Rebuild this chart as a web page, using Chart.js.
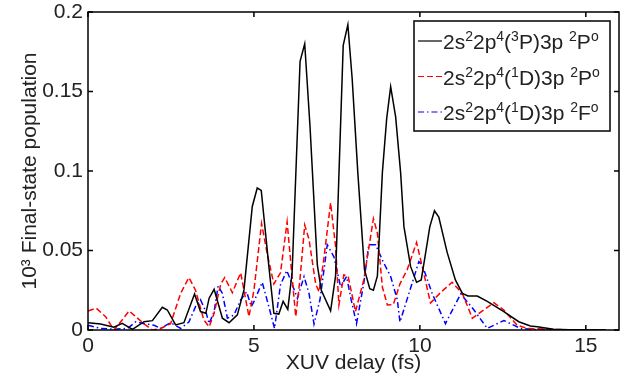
<!DOCTYPE html>
<html>
<head>
<meta charset="utf-8">
<script src="https://cdn.jsdelivr.net/npm/chart.js@4.4.0/dist/chart.umd.min.js"></script>
<style>
  body { margin: 0; background: #fff; }
</style>
</head>
<body>
<canvas id="popChart" width="630" height="382"></canvas>
<script>
// XUV delay (fs) and final-state population (x10^3)
const delay3P2P = [0.0, 0.38, 0.78, 1.03, 1.34, 1.69, 1.94, 2.24, 2.39, 2.64, 2.89, 3.21, 3.39, 3.55, 3.65, 3.80,
  4.05, 4.25, 4.50, 4.70, 4.95, 5.10, 5.22, 5.45, 5.60, 5.75, 5.88, 6.02, 6.15, 6.39, 6.53, 6.69, 6.91, 7.03,
  7.31, 7.46, 7.69, 7.83, 7.96, 8.13, 8.33, 8.49, 8.60, 8.72, 8.87, 9.00, 9.12, 9.27, 9.42, 9.52, 9.72, 9.90,
  10.04, 10.17, 10.30, 10.44, 10.57, 10.82, 11.07, 11.28, 11.45, 11.73, 12.03, 12.53, 12.98, 13.33, 13.54,
  14.03, 14.5, 15.0, 15.6];
const pop3P2P = [0.0046, 0.0038, 0.0017, 0.0042, 0.0004, 0.0052, 0.0059, 0.0143, 0.0126, 0.0032, 0.0046, 0.0227,
  0.0116, 0.0105, 0.020, 0.0256, 0.0074, 0.0046, 0.0095, 0.0252, 0.0777, 0.0893, 0.0878, 0.040, 0.0105, 0.010,
  0.018, 0.013, 0.036, 0.169, 0.180, 0.128, 0.041, 0.025, 0.012, 0.034, 0.179, 0.192, 0.158, 0.099, 0.038,
  0.026, 0.025, 0.034, 0.099, 0.133, 0.153, 0.134, 0.099, 0.065, 0.040, 0.030, 0.0315, 0.048, 0.065, 0.075,
  0.071, 0.049, 0.0315, 0.023, 0.0214, 0.0214, 0.018, 0.0116, 0.0052, 0.0025, 0.002, 0.0004, 0.0001, 0, 0];

const delay1D2P = [0.0, 0.25, 0.53, 0.78, 0.98, 1.24, 1.44, 1.74, 1.94, 2.19, 2.49, 2.79, 3.04, 3.24, 3.49, 3.65,
  3.80, 4.00, 4.12, 4.35, 4.60, 4.85, 5.00, 5.23, 5.40, 5.60, 5.80, 6.00, 6.12, 6.26, 6.39, 6.53, 6.66, 6.86,
  6.96, 7.09, 7.31, 7.46, 7.56, 7.71, 7.84, 8.06, 8.31, 8.60, 8.72, 8.87, 9.02, 9.20, 9.40, 9.62, 9.90, 10.07,
  10.32, 10.62, 10.97, 11.28, 11.58, 11.78, 12.23, 12.53, 12.93, 13.23, 14.0, 15.6];
const pop1D2P = [0.012, 0.0137, 0.0084, 0.0, 0.005, 0.012, 0.0084, 0.003, 0.0, 0.001, 0.004, 0.023, 0.033, 0.025,
  0.0063, 0.002, 0.0105, 0.029, 0.033, 0.0235, 0.036, 0.0084, 0.025, 0.067, 0.048, 0.029, 0.036, 0.068, 0.040,
  0.0084, 0.0326, 0.066, 0.057, 0.029, 0.024, 0.042, 0.080, 0.0525, 0.0158, 0.0347, 0.0336, 0.0116, 0.0315,
  0.070, 0.061, 0.027, 0.0158, 0.016, 0.029, 0.038, 0.055, 0.040, 0.017, 0.0235, 0.030, 0.023, 0.0074, 0.0105,
  0.0172, 0.0126, 0.003, 0.001, 0.0003, 0];

const delay1D2F = [0.0, 0.38, 0.78, 1.19, 1.44, 1.69, 1.99, 2.19, 2.49, 2.79, 3.04, 3.24, 3.39, 3.55, 3.65, 3.80,
  3.92, 4.05, 4.20, 4.40, 4.60, 4.78, 4.92, 5.00, 5.25, 5.45, 5.62, 5.80, 5.99, 6.13, 6.31, 6.51, 6.66, 6.81,
  6.99, 7.21, 7.41, 7.61, 7.79, 7.93, 8.09, 8.31, 8.46, 8.67, 8.87, 9.12, 9.32, 9.40, 9.97, 10.07, 10.37, 10.77,
  11.23, 11.63, 12.03, 12.53, 13.03, 13.5, 15.6];
const pop1D2F = [0.003, 0.001, 0.0005, 0.001, 0.0052, 0.004, 0.003, 0.001, 0.0046, 0.001, 0.005, 0.0147, 0.019,
  0.0116, 0.004, 0.0116, 0.0277, 0.023, 0.0074, 0.0095, 0.019, 0.024, 0.0147, 0.0178, 0.030, 0.0147, 0.001,
  0.0284, 0.0374, 0.030, 0.020, 0.0336, 0.023, 0.0038, 0.019, 0.0536, 0.046, 0.0273, 0.0336, 0.019, 0.004,
  0.0294, 0.0536, 0.0536, 0.044, 0.0336, 0.019, 0.005, 0.043, 0.041, 0.023, 0.004, 0.0227, 0.0126, 0.001,
  0.006, 0.001, 0.0003, 0];

// '^' puts the next character in superscript
const stateNames = ['2s^22p^4(^3P)3p ^2P^o', '2s^22p^4(^1D)3p ^2P^o', '2s^22p^4(^1D)3p ^2F^o'];
const xTicks = [0, 5, 10, 15];
const yTicks = [0, 0.05, 0.1, 0.15, 0.2];

const FONT = '"Liberation Sans", Arial, sans-serif';
const TEXT = '#222';

const toPoints = (xs, ys) => xs.map((x, i) => ({ x: x, y: ys[i] }));

function drawRich(ctx, str, x, y) {
  let sup = false;
  for (const ch of str) {
    if (ch === '^') { sup = true; continue; }
    ctx.font = (sup ? 14 : 21) + 'px ' + FONT;
    ctx.fillText(ch, x, sup ? y - 8 : y);
    x += ctx.measureText(ch).width;
    sup = false;
  }
}

// MATLAB style box: frame, inward ticks on all sides, boxed legend
const framePlugin = {
  id: 'frame',
  afterDatasetsDraw(chart) {
    const { ctx, chartArea: a, scales: { x, y } } = chart;
    ctx.save();
    ctx.strokeStyle = '#000';
    ctx.lineWidth = 1.5;
    ctx.setLineDash([]);
    ctx.strokeRect(a.left, a.top, a.right - a.left, a.bottom - a.top);
    ctx.beginPath();
    xTicks.forEach(v => {
      const px = x.getPixelForValue(v);
      ctx.moveTo(px, a.bottom); ctx.lineTo(px, a.bottom - 5);
      ctx.moveTo(px, a.top); ctx.lineTo(px, a.top + 5);
    });
    yTicks.forEach(v => {
      const py = y.getPixelForValue(v);
      ctx.moveTo(a.left, py); ctx.lineTo(a.left + 5, py);
      ctx.moveTo(a.right, py); ctx.lineTo(a.right - 5, py);
    });
    ctx.stroke();

    // legend
    const bx = a.right - 205, by = a.top + 9, bw = 196, bh = 110;
    ctx.fillStyle = '#fff';
    ctx.fillRect(bx, by, bw, bh);
    ctx.strokeRect(bx, by, bw, bh);
    chart.data.datasets.forEach((ds, i) => {
      const ly = by + 20 + i * 35.5;
      ctx.beginPath();
      ctx.strokeStyle = ds.borderColor;
      ctx.lineWidth = 1.2;
      ctx.setLineDash(ds.borderDash || []);
      ctx.moveTo(bx + 4, ly);
      ctx.lineTo(bx + 28, ly);
      ctx.stroke();
      ctx.setLineDash([]);
      ctx.fillStyle = TEXT;
      ctx.textBaseline = 'alphabetic';
      drawRich(ctx, stateNames[i], bx + 29, ly + 8);
    });
    ctx.restore();
  }
};

new Chart(document.getElementById('popChart'), {
  type: 'line',
  data: {
    datasets: [{
      label: stateNames[0],
      data: toPoints(delay3P2P, pop3P2P),
      borderColor: '#000000',
      borderWidth: 1.5,
    }, {
      label: stateNames[1],
      data: toPoints(delay1D2P, pop1D2P),
      borderColor: '#ff0000',
      borderWidth: 1.5,
      borderDash: [6, 3],
    }, {
      label: stateNames[2],
      data: toPoints(delay1D2F, pop1D2F),
      borderColor: '#0000ff',
      borderWidth: 1.5,
      borderDash: [6, 3, 1.5, 3],
    }]
  },
  options: {
    responsive: false,
    animation: false,
    layout: { padding: { top: 12, right: 11, left: 0, bottom: 0 } },
    elements: {
      point: { radius: 0 },
      line: { tension: 0, fill: false }
    },
    plugins: {
      legend: { display: false },
      tooltip: { enabled: false }
    },
    scales: {
      x: {
        type: 'linear',
        min: 0,
        max: 16,
        afterBuildTicks: s => { s.ticks = xTicks.map(v => ({ value: v })); },
        afterFit: s => { s.height = 52; s.paddingLeft = 0; s.paddingRight = 0; },
        grid: { display: false, drawTicks: false },
        border: { display: false },
        ticks: { padding: 4, color: TEXT, font: { family: FONT, size: 21 }, callback: v => String(v) },
        title: { display: true, text: 'XUV delay (fs)', color: TEXT, font: { family: FONT, size: 21 }, padding: { top: 0, bottom: 6 } }
      },
      y: {
        min: 0,
        max: 0.2,
        afterBuildTicks: s => { s.ticks = yTicks.map(v => ({ value: v })); },
        afterFit: s => { s.width = 88; s.paddingTop = 0; s.paddingBottom = 0; },
        grid: { display: false, drawTicks: false },
        border: { display: false },
        ticks: { padding: 5, color: TEXT, font: { family: FONT, size: 21 }, callback: v => String(+v.toFixed(2)) },
        title: { display: true, text: '10³ Final-state population', color: TEXT, font: { family: FONT, size: 21 }, padding: { top: 18, bottom: 0 } }
      }
    }
  },
  plugins: [framePlugin]
});
</script>
</body>
</html>
